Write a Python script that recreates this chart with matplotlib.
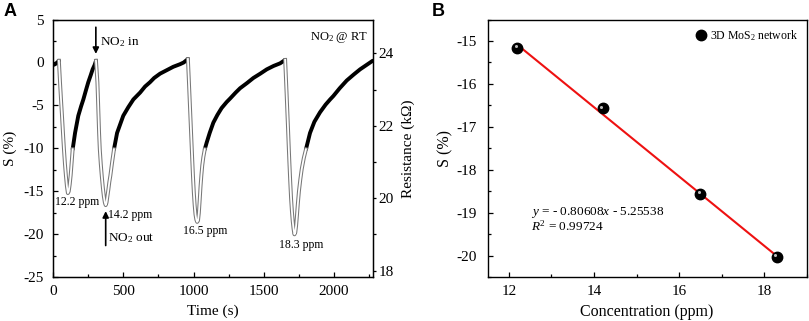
import matplotlib
matplotlib.use("Agg")
import matplotlib.pyplot as plt
from matplotlib.ticker import MultipleLocator
from matplotlib.transforms import offset_copy

plt.rcParams['font.family'] = ['Liberation Serif', 'DejaVu Serif']
plt.rcParams['mathtext.fontset'] = 'custom'
plt.rcParams['mathtext.rm'] = 'Liberation Serif'
plt.rcParams['mathtext.it'] = 'Liberation Serif:italic'
plt.rcParams['axes.unicode_minus'] = False

# ---- panel A data: sensitivity S (%) vs time (s) ----
# fast response parts (gas in + bottom of the dip)
resp_t = [
    [42, 50, 57, 64, 71, 78, 85, 92, 99, 106, 112, 119, 126, 133, 140],
    [306, 311, 316, 320, 324, 328, 333, 340, 347, 355, 362, 369, 375, 381, 387,
     394, 401, 408, 420, 434],
    [960, 966, 972, 978, 984, 990, 996, 1002, 1008, 1014, 1020, 1026, 1032,
     1038, 1044, 1050, 1056, 1062, 1070, 1080],
    [1652, 1657, 1662, 1667, 1672, 1677, 1682, 1688, 1694, 1700, 1706, 1712,
     1718, 1724, 1730, 1736, 1742, 1750, 1760, 1770, 1785, 1800],
]
resp_s = [
    [0.2, -2.3, -4.3, -6.2, -8.2, -10.1, -11.8, -13.2, -14.4, -15.2, -15.0,
     -14.2, -13.1, -11.6, -10.1],
    [0.2, -1.0, -2.3, -4.2, -6.2, -8.2, -10.1, -11.8, -13.2, -14.6, -15.6,
     -16.3, -16.6, -16.3, -15.6, -14.8, -13.9, -13.2, -11.7, -10.1],
    [0.4, -1.8, -4.1, -6.4, -8.7, -11.0, -13.2, -15.1, -16.6, -17.7, -18.3,
     -18.55, -18.4, -17.5, -16.0, -14.4, -13.1, -12.0, -11.0, -10.1],
    [0.3, -1.6, -3.5, -5.5, -7.5, -9.6, -11.6, -13.8, -15.8, -17.3, -18.5,
     -19.4, -20.0, -19.8, -19.0, -17.8, -16.5, -15.0, -13.6, -12.4, -11.1,
     -10.1],
]
# slow recovery parts (gas out)
rec_t = [
    [0, 15, 30, 42],
    [140, 157, 180, 200, 216, 235, 251, 268, 282, 296, 306],
    [434, 456, 500, 536, 572, 620, 655, 690, 720, 762, 809, 856, 904, 930, 960],
    [1080, 1094, 1115, 1141, 1170, 1200, 1236, 1260, 1300, 1331, 1380, 1426,
     1475, 1521, 1570, 1616, 1652],
    [1800, 1829, 1860, 1900, 1940, 1972, 1995, 2040, 2090, 2140, 2185, 2230,
     2275],
]
rec_s = [
    [-0.3, -0.2, 0.0, 0.2],
    [-10.1, -8.2, -6.2, -5.1, -4.3, -3.2, -2.3, -1.5, -0.8, -0.3, 0.2],
    [-10.1, -8.2, -6.2, -5.2, -4.3, -3.5, -2.8, -2.3, -1.8, -1.3, -0.9, -0.5,
     -0.2, 0.0, 0.4],
    [-10.1, -9.3, -8.2, -7.0, -6.1, -5.3, -4.6, -4.2, -3.5, -3.0, -2.4, -1.8,
     -1.3, -0.8, -0.4, -0.1, 0.3],
    [-10.1, -8.2, -6.9, -5.8, -4.9, -4.3, -3.9, -3.0, -2.1, -1.4, -0.8, -0.3,
     0.2],
]
r0_kohm = 23.75  # baseline resistance that S = 0 corresponds to
dip_labels = ['12.2 ppm', '14.2 ppm', '16.5 ppm', '18.3 ppm']

# ---- panel B data ----
conc = [12.2, 14.2, 16.5, 18.3]
resp = [-15.17, -16.57, -18.55, -20.03]
slope, intercept = -0.80608, -5.25538

fig = plt.figure(figsize=(8.09, 3.21), dpi=100)
axA = fig.add_axes([0.0655, 0.1361, 0.3952, 0.8031])
axB = fig.add_axes([0.6028, 0.1361, 0.3943, 0.8031])

for ax in (axA, axB):
    for sp in ax.spines.values():
        sp.set_linewidth(1.0)
    ax.tick_params(which='both', direction='in', top=False, right=False,
                   labelsize=11, width=0.9)
    ax.tick_params(which='major', length=3.5)
    ax.tick_params(which='minor', length=2.2)

# ---- panel A ----
for t, s in zip(rec_t, rec_s):
    axA.plot(t, s, color='black', lw=2.8, solid_capstyle='round', zorder=3)
for t, s in zip(resp_t, resp_s):
    axA.plot(t, s, color='#777777', lw=2.8, solid_joinstyle='round', zorder=4)
    axA.plot(t, s, color='white', lw=1.3, solid_joinstyle='round', zorder=5)

axA.set_xlim(0, 2275)
axA.set_ylim(-25, 5)
axA.xaxis.set_major_locator(MultipleLocator(500))
axA.xaxis.set_minor_locator(MultipleLocator(250))
axA.yaxis.set_major_locator(MultipleLocator(5))
axA.yaxis.set_minor_locator(MultipleLocator(2.5))
axA.tick_params(axis='y', pad=6.5)
axA.tick_params(axis='x', pad=5.5)
axA.set_xlabel('Time (s)', fontsize=11, va='center')
axA.set_ylabel('S (%)', fontsize=11, va='center')
axA.xaxis.set_label_coords(0.5, -0.133)
axA.yaxis.set_label_coords(-0.134, 0.5)

axR = axA.twinx()
axR.set_ylim(r0_kohm * (1 - 25 / 100), r0_kohm * (1 + 5 / 100))
axR.yaxis.set_major_locator(MultipleLocator(2))
axR.yaxis.set_minor_locator(MultipleLocator(1))
axR.tick_params(which='both', direction='out', labelsize=11, width=0.9, pad=1.5)
axR.tick_params(which='major', length=2.5)
axR.tick_params(which='minor', length=1.8)
axR.set_ylabel('Resistance (k\u03a9)', fontsize=11, va='center')
axR.yaxis.set_label_coords(1.11, 0.5)

axA.text(172, -16.2, dip_labels[0], fontsize=8.5, ha='center', va='center')
axA.text(393, -17.7, dip_labels[1], fontsize=8.5, ha='left', va='center')
axA.text(1083, -19.65, dip_labels[2], fontsize=8.5, ha='center', va='center')
axA.text(1764, -21.2, dip_labels[3], fontsize=8.5, ha='center', va='center')

axA.annotate('', xy=(305, 1.0), xytext=(305, 4.1),
             arrowprops=dict(arrowstyle='-|>', color='black', lw=1.2,
                             mutation_scale=9, shrinkA=0, shrinkB=0))
axA.text(335, 2.4, 'NO$_2$ in', fontsize=9.5, ha='left', va='center')
axA.annotate('', xy=(375, -17.3), xytext=(375, -21.3),
             arrowprops=dict(arrowstyle='-|>', color='black', lw=1.2,
                             mutation_scale=9, shrinkA=0, shrinkB=0))
axA.text(393, -20.4, 'NO$_2$ out', fontsize=9.5, ha='left', va='center')
axA.text(0.985, 0.93, 'NO$_2$ @ RT', transform=axA.transAxes, fontsize=9,
         ha='right', va='center')

# ---- panel B ----
axB.plot([conc[0], conc[-1]],
         [slope * conc[0] + intercept, slope * conc[-1] + intercept],
         color='#ee1111', lw=1.5, zorder=2)
axB.plot(conc, resp, 'o', color='black', ms=7.5, zorder=3,
         label='3D MoS$_2$ network')
hl = offset_copy(axB.transData, fig=fig, x=-1.3, y=1.3, units='points')
axB.plot(conc, resp, 'o', color='#bdbdbd', ms=2.2, mec='none', zorder=4,
         transform=hl)
axB.set_xlim(11.5, 19)
axB.set_ylim(-20.5, -14.5)
axB.xaxis.set_major_locator(MultipleLocator(2))
axB.xaxis.set_minor_locator(MultipleLocator(1))
axB.yaxis.set_major_locator(MultipleLocator(1))
axB.yaxis.set_minor_locator(MultipleLocator(0.5))
axB.tick_params(axis='y', pad=8)
axB.tick_params(axis='x', pad=5.5)
axB.set_xlabel('Concentration (ppm)', fontsize=11.5, va='center')
axB.set_ylabel('S (%)', fontsize=11.5, va='center')
axB.xaxis.set_label_coords(0.5, -0.133)
axB.yaxis.set_label_coords(-0.134, 0.5)
axB.legend(loc='upper right', frameon=False, fontsize=8.5, handletextpad=0.2,
           borderaxespad=0.3, handlelength=1.2)
axB.text(12.53, -18.98, '$y$ = - 0.80608$x$ - 5.25538', fontsize=9.5,
         ha='left', va='center')
axB.text(12.53, -19.32, '$R^{\\mathrm{2}}$ = 0.99724', fontsize=9.5,
         ha='left', va='center')

fig.text(10 / 809, 1 - 12 / 321, 'A', fontsize=13, fontweight='bold',
         family='Liberation Sans', ha='center', va='center')
fig.text(438 / 809, 1 - 12 / 321, 'B', fontsize=13, fontweight='bold',
         family='Liberation Sans', ha='center', va='center')

fig.savefig('out.png', dpi=100)
